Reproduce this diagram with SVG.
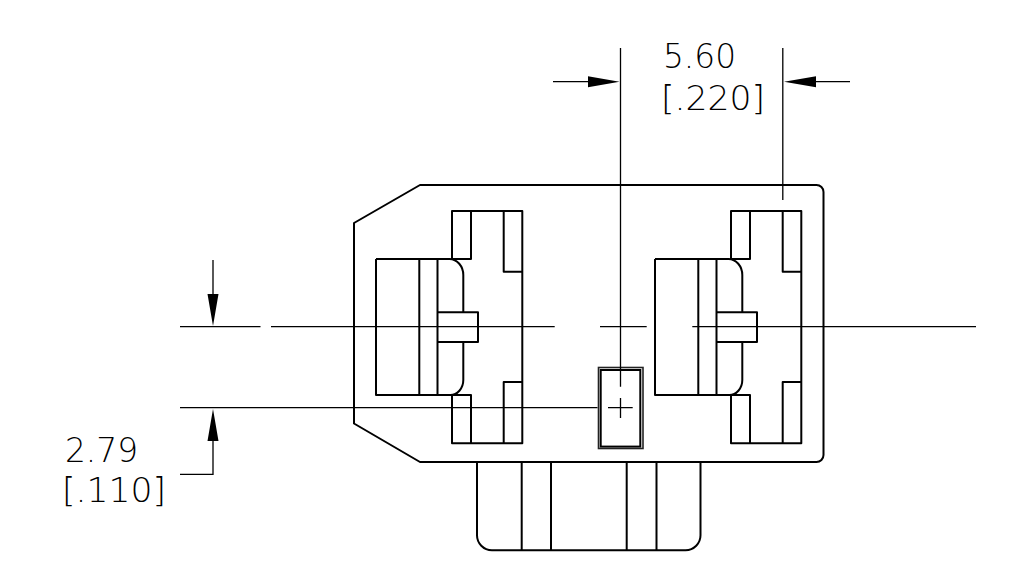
<svg xmlns="http://www.w3.org/2000/svg" width="1023" height="572" viewBox="0 0 1023 572">
<style>
.o{fill:none;stroke:#000;stroke-width:2;stroke-linejoin:round}
.t{fill:none;stroke:#000;stroke-width:1.3}
.h{fill:#000;stroke:none}
.x{font-family:"DejaVu Sans","Liberation Sans",sans-serif;font-weight:200;font-size:33px;fill:#000}
</style>
<defs>
<g id="pin">
<path class="o" d="M452 259V211H522.3V443.3H452V395M452 259H471V211M503.7 211V271.7H522.3M452 395H471V443.3M503.7 443.3V382H522.3"/>
<path class="o" d="M376 259H449.500A14 16 0 0 1 463.3 275V312.3M376 259V395H450A13 15 0 0 0 463.3 380V342M419.3 259V395M437.5 259V395"/>
<path class="o" d="M437.5 312.3H478V342H437.5"/>
</g>
</defs>
<rect width="1023" height="572" fill="#fff"/>
<g id="body"><path class="o" d="M420 185H816.5A7 7 0 0 1 823.5 192V455A7 7 0 0 1 816.5 462H420L354 423.5V223Z"/></g>
<g id="pin-left"><use href="#pin"/></g>
<g id="pin-right"><use href="#pin" x="279"/></g>
<g id="latch">
<rect x="598.5" y="367.500" width="44.500" height="81" fill="none" stroke="#222" stroke-width="1.6"/>
<rect x="600.7" y="370" width="39.6" height="76.6" fill="none" stroke="#000" stroke-width="2"/>
</g>
<g id="tab"><path class="o" d="M477 462V535A15 15 0 0 0 492 550.3H685.5A15 15 0 0 0 700.500 535V462M521.7 462V550.3M551 462V550.3M626.7 462V550.3M656.5 462V550.3"/></g>
<g id="connectors">
<path class="t" d="M180 326.7H260.5M271 326.7H554.7M600 326.7H646.7M692.3 326.7H976M180 407.7H597.5M620.5 48V386.7M620.5 398V418M608 407.7H632.7M782.8 48V200"/>
<path class="t" d="M553 81.7H590M816 81.7H850M213 260V296M213 438V474.3H180"/>
<path class="h" d="M619.5 81.7L588 76.2V87.2ZM784 81.7L816 76.2V87.2ZM213 326L207.5 294H218.5ZM213 409L207.5 441H218.5Z"/>
</g>
<g id="labels">
<text class="x" x="663" y="68" textLength="73" lengthAdjust="spacingAndGlyphs">5.60</text>
<text class="x" x="661" y="109.500" textLength="104" lengthAdjust="spacingAndGlyphs">[.220]</text>
<text class="x" x="65" y="461.500" textLength="73" lengthAdjust="spacingAndGlyphs">2.79</text>
<text class="x" x="62" y="501.500" textLength="104" lengthAdjust="spacingAndGlyphs">[.110]</text>
</g>
</svg>
